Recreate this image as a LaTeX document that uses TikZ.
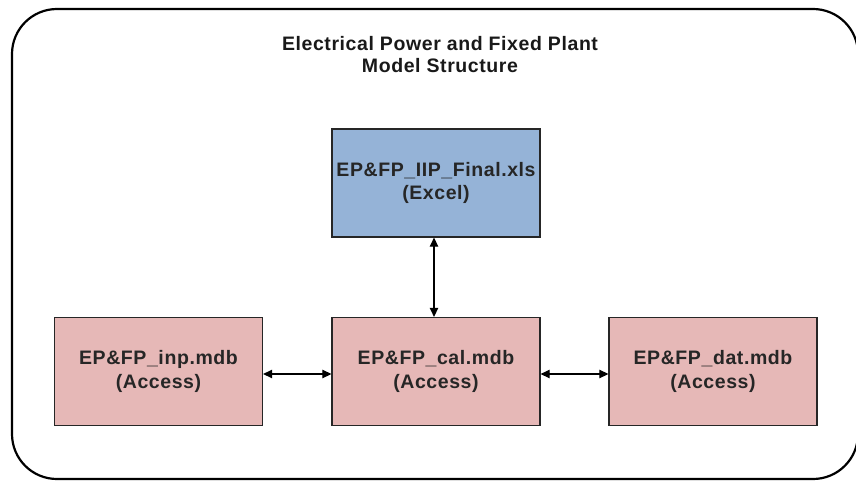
\documentclass[tikz,border=0pt]{standalone}
\usepackage{fontspec}
\setmainfont{Liberation Sans}
\newfontfamily\widesans[LetterSpace=3]{Liberation Sans}
\usetikzlibrary{arrows.meta}
\definecolor{pinkfill}{HTML}{E6B8B7}
\definecolor{bluefill}{HTML}{95B3D7}
\begin{document}
\begin{tikzpicture}[x=1pt,y=-1pt,
  filebox/.style={draw=black!85, line width=1.3pt, minimum width=208pt, minimum height=108pt, align=center, inner sep=0pt, font=\widesans\fontsize{19.5}{24}\selectfont\bfseries, text=black!85},
  link/.style={line width=1.2pt, {Triangle[length=9pt,width=8.5pt]}-{Triangle[length=9pt,width=8.5pt]}}]
\useasboundingbox (0,0) rectangle (856,481);
\draw[line width=2.2pt, rounded corners=45pt] (12,9) rectangle (858,479);
\node[align=center, font=\widesans\fontsize{19.5}{22}\selectfont\bfseries, text=black!90] (title) at (440,55) {Electrical Power and Fixed Plant\\Model Structure};
\node[filebox, fill=bluefill, font=\widesans\fontsize{19.5}{23}\selectfont\bfseries] (xls) at (436,183) {EP\&FP\_IIP\_Final.xls\\(Excel)};
\node[filebox, fill=pinkfill] (inp) at (158.5,371.5) {EP\&FP\_inp.mdb\\(Access)};
\node[filebox, fill=pinkfill] (cal) at (436,371.5) {EP\&FP\_cal.mdb\\(Access)};
\node[filebox, fill=pinkfill] (dat) at (713,371.5) {EP\&FP\_dat.mdb\\(Access)};
\draw[link] (inp.east |- 0,374) -- (cal.west |- 0,374);
\draw[link] (cal.east |- 0,374) -- (dat.west |- 0,374);
\draw[link] (xls.south -| 434,0) -- (cal.north -| 434,0);
\end{tikzpicture}
\end{document}
